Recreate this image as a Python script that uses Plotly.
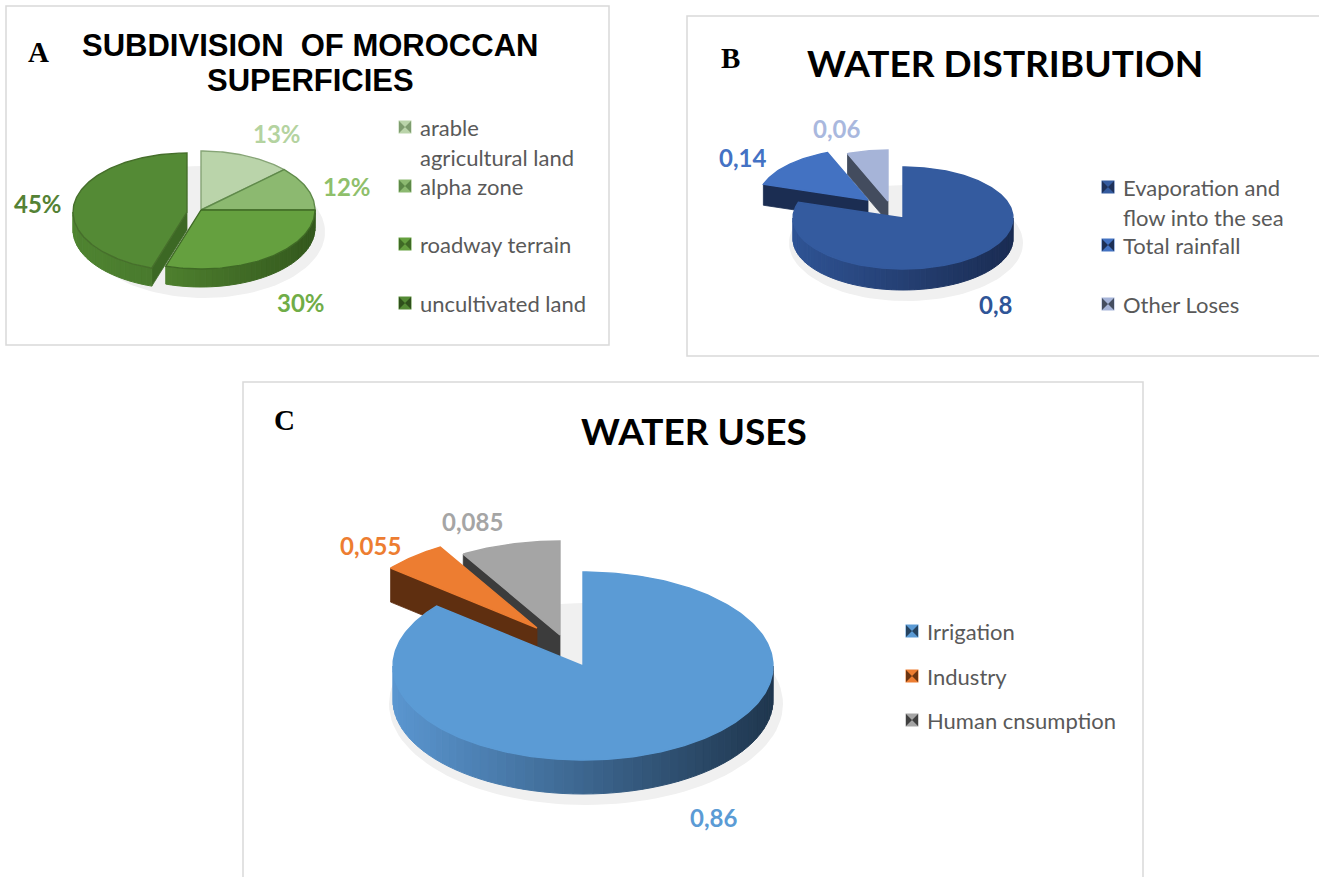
import math
import textwrap
import plotly.graph_objects as go

# ---------------- DATA ----------------
a_categories = ["arable agricultural land", "alpha zone", "roadway terrain", "uncultivated land"]
a_values = [0.13, 0.12, 0.30, 0.45]

b_categories = ["Evaporation and flow into the sea", "Total rainfall", "Other Loses"]
b_values = [0.80, 0.14, 0.06]

c_categories = ["Irrigation", "Industry", "Human cnsumption"]
c_values = [0.86, 0.055, 0.085]

# ---------------- STYLE / LAYOUT ----------------
W, H = 1319, 877

STYLE_A = dict(
    cx=201, cy=210, rx=114, ry=59, depth=18,
    offsets=[(0, 0), (0, 0), (0, 0), (-14, 2)],
    top=["#bad4aa", "#8cb970", "#65a03f", "#548a35"],
    edge=["#86a476", "#5f8a4a", "#3f6a25", "#466f2b"],
    side=[("#8cb970", "#6c9656"), ("#7fae62", "#5d8848"), ("#5b9437", "#33581d"), ("#4f8431", "#3d6725")],
    face=["#7f9d70", "#5d8848", "#3f6a25", "#3c6824"],
    label_pos=[(277, 133), (347, 186), (301, 302), (38, 203)],
    label_col=["#b4d3a0", "#8fbf6b", "#70ad47", "#548235"],
    legend_x=405, legend_rows=[127, 186, 244, 303],
    marker_dark=["#7f9d70", "#5d8848", "#3f6a25", "#2f4f1c"],
)

STYLE_B = dict(
    cx=903, cy=218, rx=110, ry=51, depth=21,
    offsets=[(0, 0), (-35, -18), (-15, -17)],
    top=["#345b9f", "#4372c2", "#a6b4d8"],
    edge=["#345b9f", "#4372c2", "#a6b4d8"],
    side=[("#2f5394", "#1a2c52"), ("#2a4a85", "#1c2e55"), ("#6f7c96", "#454e60")],
    face=["#1e3159", "#1b2d52", "#434c5e"],
    label_pos=[(995, 304), (742, 157), (836, 128)],
    label_col=["#2f5597", "#4472c4", "#a9b8de"],
    legend_x=1108, legend_rows=[187, 245, 304],
    marker_dark=["#1e3159", "#1d2f54", "#454e60"],
)

STYLE_C = dict(
    cx=583, cy=666, rx=190, ry=94, depth=34,
    offsets=[(0, 0), (-46, -38), (-23, -31)],
    top=["#5b9bd5", "#ed7d31", "#a5a5a5"],
    edge=["#5b9bd5", "#ed7d31", "#a5a5a5"],
    side=[("#5a96d0", "#1f364e"), ("#8a4a1e", "#5e2f10"), ("#6a6a6a", "#3c3c3c")],
    face=["#2b4a68", "#5f2f10", "#3c3c3c"],
    label_pos=[(713, 817), (370, 545), (472, 521)],
    label_col=["#5b9bd5", "#ed7d31", "#a5a5a5"],
    legend_x=912, legend_rows=[631, 676, 720],
    marker_dark=["#26435f", "#6b3512", "#404040"],
)

PANELS = [  # x0, y0, x1, y1
    (6, 6, 609, 345),
    (687, 16, 1330, 356),
    (243, 382, 1143, 890),
]

LEGEND_FONT = dict(family="Lato, Open Sans, sans-serif", size=22, color="#595959")
LABEL_FONT_FAMILY = "Lato, Open Sans, sans-serif"
LINE_GAP = 30


def hex_to_rgb(h):
    h = h.lstrip("#")
    return tuple(int(h[i:i + 2], 16) for i in (0, 2, 4))


def lerp_col(c1, c2, t):
    a, b = hex_to_rgb(c1), hex_to_rgb(c2)
    t = min(max(t, 0.0), 1.0)
    return "rgb(%d,%d,%d)" % tuple(round(a[i] + (b[i] - a[i]) * t) for i in range(3))


def pt(cx, cy, rx, ry, deg):
    t = math.radians(deg)
    return cx + rx * math.sin(t), cy - ry * math.cos(t)


def arc(cx, cy, rx, ry, a0, a1, step=1.0):
    n = max(2, int(math.ceil(abs(a1 - a0) / step)) + 1)
    return [pt(cx, cy, rx, ry, a0 + (a1 - a0) * i / (n - 1)) for i in range(n)]


def poly(fig, pts, color, line_color=None, lw=0.8):
    xs = [p[0] for p in pts] + [pts[0][0]]
    ys = [p[1] for p in pts] + [pts[0][1]]
    fig.add_trace(go.Scatter(
        x=xs, y=ys, mode="lines", fill="toself", fillcolor=color,
        line=dict(color=line_color or color, width=lw),
        hoverinfo="skip", showlegend=False))


def draw_pie(fig, values, st):
    cx, cy, rx, ry, d = st["cx"], st["cy"], st["rx"], st["ry"], st["depth"]
    total = float(sum(values))
    # soft shadow
    sh = arc(cx + 3, cy + d + 4, rx + 7, ry + 7, 0, 360, 3)
    poly(fig, sh, "#f0f0f0", lw=0)
    slices = []
    acc = 0.0
    for i, v in enumerate(values):
        a0 = acc / total * 360.0
        acc += v
        a1 = acc / total * 360.0
        ox, oy = st["offsets"][i]
        mid = (a0 + a1) / 2
        cyc = cy + oy - 0.5 * ry * math.cos(math.radians(mid))
        slices.append((cyc, i, a0, a1, ox, oy))
    slices.sort()
    for _, i, a0, a1, ox, oy in slices:
        scx, scy = cx + ox, cy + oy
        # visible radial faces
        for ang, vis in ((a0, math.sin(math.radians(a0)) < -1e-6),
                         (a1, math.sin(math.radians(a1)) > 1e-6)):
            if vis:
                p = pt(scx, scy, rx, ry, ang)
                poly(fig, [(scx, scy), p, (p[0], p[1] + d), (scx, scy + d)], st["face"][i])
        # outer side wall (front facing part)
        lo, hi = max(a0, 90.0), min(a1, 270.0)
        if hi > lo:
            n = max(1, int(math.ceil((hi - lo) / 3.0)))
            for k in range(n):
                s0 = lo + (hi - lo) * k / n
                s1 = lo + (hi - lo) * (k + 1) / n
                top_pts = arc(scx, scy, rx, ry, s0, s1, 1.0)
                bot_pts = [(x, y + d) for x, y in reversed(top_pts)]
                midang = math.radians((s0 + s1) / 2)
                t = (math.sin(midang) + 1) / 2
                col = lerp_col(st["side"][i][0], st["side"][i][1], t)
                poly(fig, top_pts + bot_pts, col, lw=1.0)
        # top face
        top_pts = [(scx, scy)] + arc(scx, scy, rx, ry, a0, a1, 1.0)
        poly(fig, top_pts, st["top"][i], line_color=st["edge"][i], lw=1.4)


def fmt_pct(v):
    return "%d%%" % round(v * 100)


def fmt_comma(v):
    return ("%g" % v).replace(".", ",")


fig = go.Figure()
annotations = []

# panel frames
shapes = []
for x0, y0, x1, y1 in PANELS:
    shapes.append(dict(type="rect", xref="x", yref="y", x0=x0, y0=y0, x1=x1, y1=y1,
                       line=dict(color="#d9d9d9", width=1.5), fillcolor="rgba(0,0,0,0)",
                       layer="below"))

for values, cats, st, fmt in ((a_values, a_categories, STYLE_A, fmt_pct),
                              (b_values, b_categories, STYLE_B, fmt_comma),
                              (c_values, c_categories, STYLE_C, fmt_comma)):
    draw_pie(fig, values, st)
    # data labels
    for i, v in enumerate(values):
        lx, ly = st["label_pos"][i]
        annotations.append(dict(x=lx, y=ly, xref="x", yref="y", text="<b>%s</b>" % fmt(v),
                                showarrow=False, xanchor="center", yanchor="middle",
                                font=dict(family=LABEL_FONT_FAMILY, size=24, color=st["label_col"][i])))
    # legend
    for i, cat in enumerate(cats):
        ry_ = st["legend_rows"][i]
        mx = st["legend_x"]
        fig.add_trace(go.Scatter(x=[mx], y=[ry_], mode="markers",
                                 marker=dict(symbol="square", size=13, color=st["top"][i], line=dict(width=0)),
                                 hoverinfo="skip", showlegend=False))
        fig.add_trace(go.Scatter(x=[mx], y=[ry_], mode="markers",
                                 marker=dict(symbol="bowtie", size=12, color=st["marker_dark"][i], line=dict(width=0)),
                                 hoverinfo="skip", showlegend=False))
        for j, line in enumerate(textwrap.wrap(cat, 17)):
            annotations.append(dict(x=mx + 13, y=ry_ + j * LINE_GAP, xref="x", yref="y", text=line,
                                    showarrow=False, xanchor="left", yanchor="middle", font=LEGEND_FONT))

# titles and panel letters
serif = dict(family="Liberation Serif, Times New Roman, serif", size=29, color="black")
title_a_font = dict(family="Liberation Sans, Arial, sans-serif", size=31, color="black")
annotations += [
    dict(x=38, y=52, text="<b>A</b>", font=serif),
    dict(x=730, y=58, text="<b>B</b>", font=serif),
    dict(x=284, y=420, text="<b>C</b>", font=serif),
    dict(x=310, y=45, text="<b>SUBDIVISION\u00a0 OF MOROCCAN</b>", font=title_a_font),
    dict(x=310, y=80, text="<b>SUPERFICIES</b>", font=title_a_font),
    dict(x=1005, y=62, text="<b>WATER DISTRIBUTION</b>",
         font=dict(family="Lato, Open Sans, sans-serif", size=37, color="black")),
    dict(x=694, y=430, text="<b>WATER USES</b>",
         font=dict(family="Lato, Open Sans, sans-serif", size=37, color="black")),
]
for a in annotations[-7:]:
    a.update(xref="x", yref="y", showarrow=False, xanchor="center", yanchor="middle")

fig.update_layout(
    width=W, height=H, margin=dict(l=0, r=0, t=0, b=0),
    paper_bgcolor="white", plot_bgcolor="white",
    xaxis=dict(range=[0, W], visible=False, fixedrange=True),
    yaxis=dict(range=[H, 0], visible=False, fixedrange=True),
    annotations=annotations, shapes=shapes, showlegend=False,
)

fig.write_html("out.html", config={"displayModeBar": False},
               post_script="document.body.style.margin='0px';document.body.style.overflow='hidden';")
